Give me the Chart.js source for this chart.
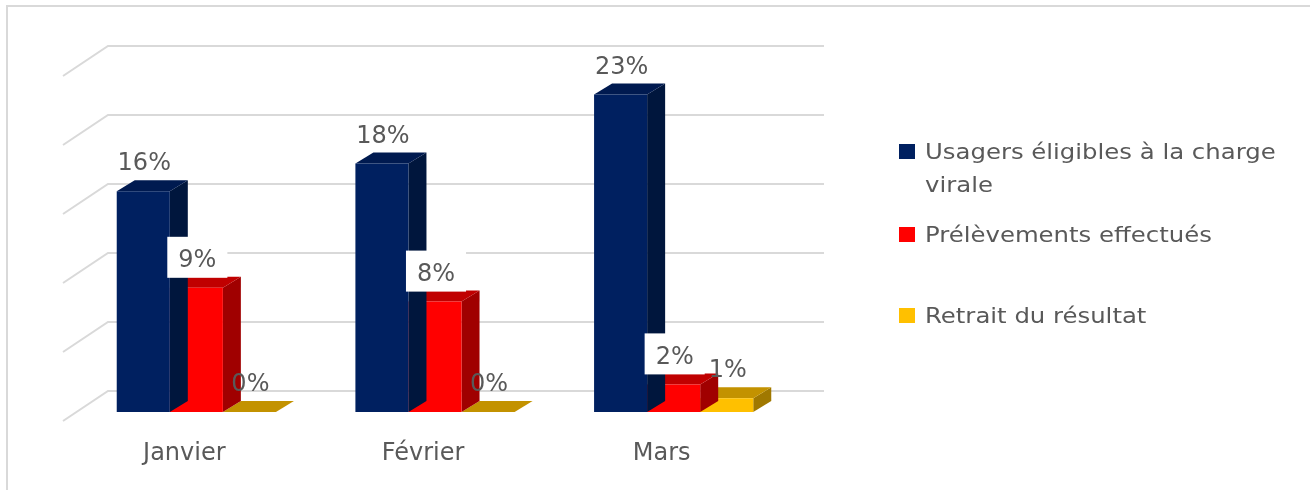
<!DOCTYPE html>
<html>
<head>
<meta charset="utf-8">
<script src="https://cdn.jsdelivr.net/npm/chart.js@4/dist/chart.umd.min.js"></script>
<style>
  html, body { margin: 0; padding: 0; background: #fff; overflow: hidden; }
  canvas { display: block; }
</style>
</head>
<body>
<canvas id="grafico" width="1310" height="490"></canvas>
<script>
// données (en %)
const categories = ['Janvier', 'Février', 'Mars'];
const usagers = [16, 18, 23];
const prelevements = [9, 8, 2];
const retrait = [0, 0, 1];
const yTicks = [0, 5, 10, 15, 20, 25];

const seriesLabels = ['Usagers éligibles à la charge virale', 'Prélèvements effectués', 'Retrait du résultat'];

// couleurs face / dessus / côté
const couleurs = [
    { face: '#002060', top: '#001a50', side: '#00163d' },
    { face: '#FF0000', top: '#C00000', side: '#A00000' },
    { face: '#FFC000', top: '#C39200', side: '#A07800' }
];

const GRIS = '#595959';
const FONT = "'DejaVu Sans', sans-serif";

// profondeur des barres et décalage du mur du fond
const PX = 18, PY = -11;
const BACK_X = 31, BACK_Y = -21;
const FRONT_X = -14, FRONT_Y = 9;

const fond = {
    id: 'fond',
    beforeDraw(chart) {
        const ctx = chart.ctx;
        ctx.save();
        ctx.fillStyle = '#fff';
        ctx.fillRect(0, 0, chart.width, chart.height);
        // cadre
        ctx.strokeStyle = '#D9D9D9';
        ctx.lineWidth = 2;
        ctx.beginPath();
        ctx.moveTo(7, chart.height);
        ctx.lineTo(7, 6);
        ctx.lineTo(chart.width, 6);
        ctx.stroke();

        // quadrillage du mur du fond
        const area = chart.chartArea;
        const y = chart.scales.y;
        ctx.strokeStyle = '#D9D9D9';
        ctx.lineWidth = 2;
        yTicks.forEach(v => {
            const yb = y.getPixelForValue(v) + BACK_Y;
            const xb = area.left + BACK_X;
            ctx.beginPath();
            ctx.moveTo(xb + FRONT_X - BACK_X, yb + FRONT_Y - BACK_Y);
            ctx.lineTo(xb, yb);
            ctx.lineTo(area.right + BACK_X, yb);
            ctx.stroke();
        });
        ctx.restore();
    },
    beforeDatasetDraw(chart, args) {
        const ctx = chart.ctx;
        const c = couleurs[args.index];
        ctx.save();
        args.meta.data.forEach(bar => {
            const xl = bar.x - bar.width / 2;
            const xr = bar.x + bar.width / 2;
            const yt = bar.y;
            const yb = bar.base;
            // côté
            ctx.fillStyle = c.side;
            ctx.beginPath();
            ctx.moveTo(xr, yt);
            ctx.lineTo(xr + PX, yt + PY);
            ctx.lineTo(xr + PX, yb + PY);
            ctx.lineTo(xr, yb);
            ctx.closePath();
            ctx.fill();
            // dessus
            ctx.fillStyle = c.top;
            ctx.beginPath();
            ctx.moveTo(xl, yt);
            ctx.lineTo(xr, yt);
            ctx.lineTo(xr + PX, yt + PY);
            ctx.lineTo(xl + PX, yt + PY);
            ctx.closePath();
            ctx.fill();
        });
        ctx.restore();
    },
    afterDatasetsDraw(chart) {
        const ctx = chart.ctx;
        ctx.save();
        ctx.font = '24px ' + FONT;
        ctx.textAlign = 'center';
        ctx.textBaseline = 'middle';
        chart.data.datasets.forEach((ds, i) => {
            const meta = chart.getDatasetMeta(i);
            meta.data.forEach((bar, j) => {
                const txt = ds.data[j] + '%';
                const cx = bar.x + 1;
                const bottom = bar.y + PY;
                if (i === 1) {
                    const w = ctx.measureText(txt).width + 22;
                    ctx.fillStyle = '#fff';
                    ctx.fillRect(cx - w / 2, bottom - 40, w, 41);
                }
                ctx.fillStyle = GRIS;
                ctx.fillText(txt, cx, bottom - 16);
            });
        });

        // légende
        const legende = [
            { lignes: ['Usagers éligibles à la charge', 'virale'], y: 159 },
            { lignes: ['Prélèvements effectués'], y: 242 },
            { lignes: ['Retrait du résultat'], y: 323 }
        ];
        ctx.textAlign = 'left';
        ctx.textBaseline = 'alphabetic';
        ctx.font = '21px ' + FONT;
        legende.forEach((item, i) => {
            ctx.fillStyle = couleurs[i].face;
            ctx.fillRect(899, item.y - 15, 16, 15);
            ctx.fillStyle = GRIS;
            item.lignes.forEach((l, k) => {
                ctx.save();
                ctx.translate(925, item.y + k * 33);
                ctx.scale(1.16, 1);
                ctx.fillText(l, 0, 0);
                ctx.restore();
            });
        });
        ctx.restore();
    }
};

new Chart(document.getElementById('grafico'), {
    type: 'bar',
    data: {
        labels: categories,
        datasets: [
            { label: seriesLabels[0], data: usagers, backgroundColor: couleurs[0].face },
            { label: seriesLabels[1], data: prelevements, backgroundColor: couleurs[1].face },
            { label: seriesLabels[2], data: retrait, backgroundColor: couleurs[2].face }
        ]
    },
    options: {
        responsive: false,
        animation: false,
        devicePixelRatio: 1,
        layout: { padding: { left: 77, right: 517, top: 67, bottom: 0 } },
        datasets: {
            bar: { categoryPercentage: 0.667, barPercentage: 1.0, borderWidth: 0 }
        },
        plugins: {
            legend: { display: false },
            tooltip: { enabled: false }
        },
        scales: {
            x: {
                grid: { display: false, drawTicks: false },
                border: { display: false },
                ticks: {
                    color: GRIS,
                    font: { family: FONT, size: 24 },
                    padding: 27,
                    labelOffset: -12
                },
                afterFit(s) { s.height = 78; }
            },
            y: {
                display: false,
                min: 0,
                max: 25,
                ticks: { stepSize: 5 }
            }
        }
    },
    plugins: [fond]
});
</script>
</body>
</html>
